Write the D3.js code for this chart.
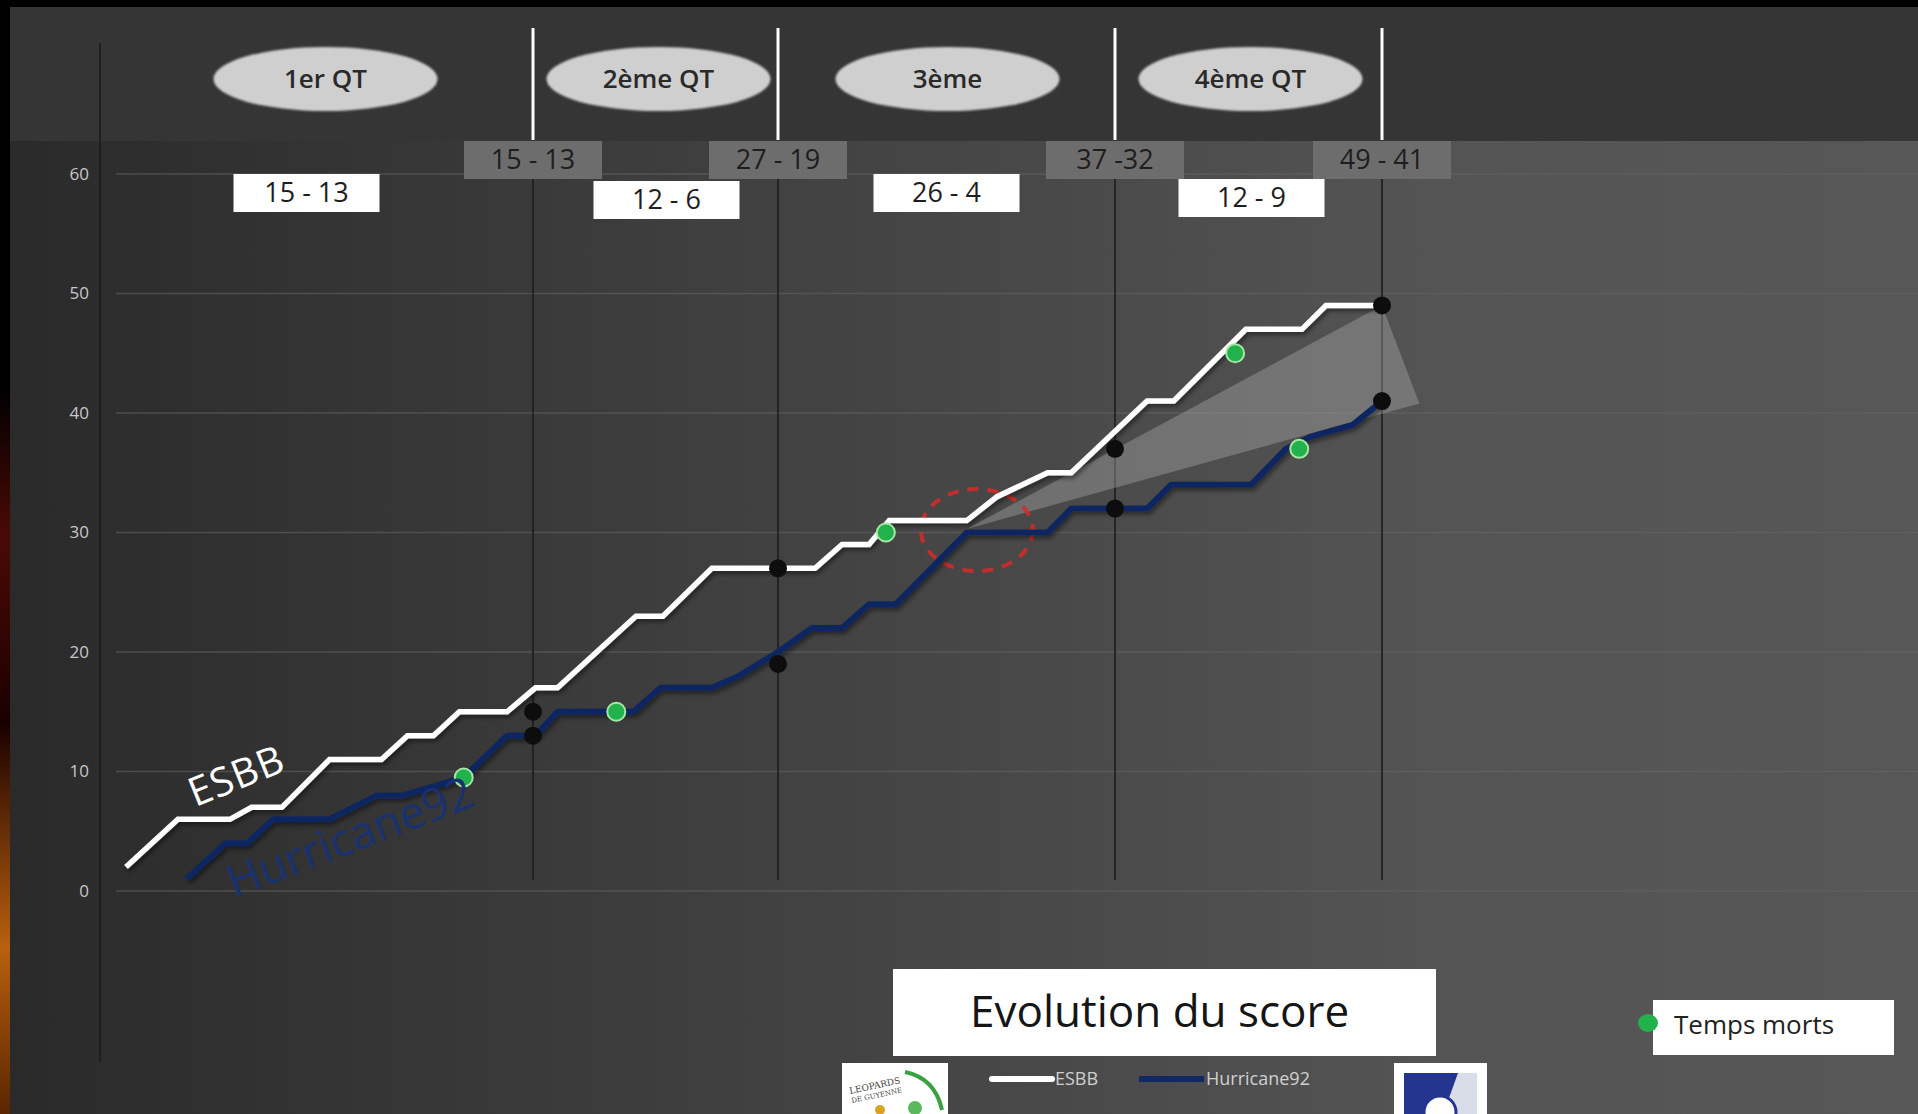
<!DOCTYPE html>
<meta charset="utf-8">
<script src="https://d3js.org/d3.v7.min.js"></script>
<style>
  body { margin: 0; background: #000; }
  svg { display: block; font-family: "Open Sans", sans-serif; }
</style>
<div id="chart"></div>
<script>

// ---- data ----
// game time in minutes, quarters end at 10 / 20 / 30 / 40
var quarterEnds = [0, 10, 20, 30, 40];
var quarterNames = ["1er QT", "2ème QT", "3ème", "4ème QT"];
var quarterScores = ["15 - 13", "12 - 6", "26 - 4", "12 - 9"];
var runningScores = ["15 - 13", "27 - 19", "37 -32", "49 - 41"];

var esbbTime  = [0.6, 1.8, 3.0, 3.5, 4.2, 5.3, 6.5, 7.1, 7.7, 8.3, 9.4, 10.1, 11.0, 14.2, 15.3, 17.3, 21.1, 21.9, 22.7, 23.3, 25.6, 26.5, 28.0, 28.7, 31.2, 32.2, 34.9, 37.0, 37.9, 40];
var esbbScore = [2, 6, 6, 7, 7, 11, 11, 13, 13, 15, 15, 17, 17, 23, 23, 27, 27, 29, 29, 31, 31, 33, 35, 35, 41, 41, 47, 47, 49, 49];

var hurTime  = [2.0, 2.9, 3.4, 4.0, 5.3, 6.4, 7.0, 8.4, 9.4, 10.1, 11.0, 14.1, 15.2, 17.3, 18.4, 20.0, 21.0, 21.9, 22.7, 23.5, 25.6, 28.0, 28.7, 31.2, 32.1, 35.1, 36.4, 37.3, 38.9, 40];
var hurScore = [1, 4, 4, 6, 6, 8, 8, 9.5, 13, 13, 15, 15, 17, 17, 18, 20, 22, 22, 24, 24, 30, 30, 32, 32, 34, 34, 37, 38, 39, 41];

// score at the end of each quarter
var endEsbb = [15, 27, 37, 49];
var endHur  = [13, 19, 32, 41];

// temps morts (time-outs)
var toTime  = [23.2, 34.5, 8.4, 13.4, 36.9];
var toScore = [30, 45, 9.5, 15, 37];

// grey "gap" wedge and red circle (the moment Hurricane92 came back)
var wedgeTime  = [25.6, 40, 41.4];
var wedgeScore = [30.3, 49, 40.8];
var circleTime = 25.9, circleScore = 30.2;

var yTicks = [0, 10, 20, 30, 40, 50, 60];

// ---- svg ----
var W = 1918, H = 1114;
var svg = d3.select("#chart").append("svg").attr("width", W).attr("height", H);

var defs = svg.append("defs");
var bg = defs.append("linearGradient").attr("id", "bg").attr("x1", 0).attr("x2", 1).attr("y1", 0).attr("y2", 0);
bg.append("stop").attr("offset", "0%").attr("stop-color", "#2a2a2a");
bg.append("stop").attr("offset", "40%").attr("stop-color", "#414141");
bg.append("stop").attr("offset", "75%").attr("stop-color", "#545454");
bg.append("stop").attr("offset", "100%").attr("stop-color", "#575757");

var glow = defs.append("linearGradient").attr("id", "glow").attr("x1", 0).attr("x2", 0).attr("y1", 0).attr("y2", 1);
glow.append("stop").attr("offset", "0%").attr("stop-color", "#000");
glow.append("stop").attr("offset", "35%").attr("stop-color", "#000");
glow.append("stop").attr("offset", "48%").attr("stop-color", "#4a0a06");
glow.append("stop").attr("offset", "65%").attr("stop-color", "#1a0000");
glow.append("stop").attr("offset", "85%").attr("stop-color", "#b8600f");
glow.append("stop").attr("offset", "100%").attr("stop-color", "#5a2500");

var shadow = defs.append("filter").attr("id", "shadow").attr("x", "-10%").attr("y", "-10%").attr("width", "120%").attr("height", "130%");
shadow.append("feDropShadow").attr("dx", 2).attr("dy", 3).attr("stdDeviation", 2).attr("flood-color", "#000").attr("flood-opacity", 0.45);

var soft = defs.append("filter").attr("id", "soft");
soft.append("feGaussianBlur").attr("stdDeviation", 1.2);

// background panels
svg.append("rect").attr("x", 0).attr("y", 0).attr("width", 10).attr("height", H).style("fill", "url(#glow)");
svg.append("rect").attr("x", 10).attr("y", 141).attr("width", W - 10).attr("height", H - 141).style("fill", "url(#bg)");
svg.append("rect").attr("x", 10).attr("y", 7).attr("width", W - 10).attr("height", 134).style("fill", "#353535");

// scales
var x = d3.scaleLinear().domain(quarterEnds).range([100, 533, 778, 1115, 1382]);
var y = d3.scaleLinear().domain([0, 60]).range([891, 174]);

// gridlines
svg.selectAll(".grid").data(yTicks).enter().append("line")
    .attr("x1", 116).attr("x2", W)
    .attr("y1", function(d) { return y(d); }).attr("y2", function(d) { return y(d); })
    .attr("stroke", "#666").attr("stroke-width", 1.5).attr("opacity", 0.55);

// y axis
svg.append("line").attr("x1", 100).attr("x2", 100).attr("y1", 43).attr("y2", 1062)
    .attr("stroke", "#1e1e1e").attr("stroke-width", 2);
var yAxis = svg.append("g").attr("transform", "translate(100,0)")
    .call(d3.axisLeft(y).tickValues(yTicks).tickSize(0).tickPadding(11));
yAxis.select(".domain").remove();
yAxis.selectAll("text").style("font-family", "Open Sans").style("font-size", "17px").style("fill", "#c8c8c8");

// quarter separators
var qEnd = quarterEnds.slice(1);
svg.selectAll(".qline").data(qEnd).enter().append("line")
    .attr("x1", function(d) { return x(d); }).attr("x2", function(d) { return x(d); })
    .attr("y1", 179).attr("y2", 880)
    .attr("stroke", "#1c1c1c").attr("stroke-width", 1.6);
svg.selectAll(".qtop").data(qEnd).enter().append("line")
    .attr("x1", function(d) { return x(d); }).attr("x2", function(d) { return x(d); })
    .attr("y1", 28).attr("y2", 140)
    .attr("stroke", "#fff").attr("stroke-width", 3);

// quarter name ellipses
var qMid = quarterNames.map(function(d, i) { return (quarterEnds[i] + quarterEnds[i + 1]) / 2; });
var ellDx = [9, 3, 1, 2];
svg.selectAll(".qell").data(quarterNames).enter().append("ellipse")
    .attr("cx", function(d, i) { return x(qMid[i]) + ellDx[i]; }).attr("cy", 79)
    .attr("rx", 112).attr("ry", 32)
    .style("fill", "#cfcfcf").attr("filter", "url(#soft)");
svg.selectAll(".qname").data(quarterNames).enter().append("text")
    .attr("x", function(d, i) { return x(qMid[i]) + ellDx[i]; }).attr("y", 88)
    .text(function(d) { return d; })
    .style("text-anchor", "middle").style("font-size", "26px").style("font-weight", 600).style("fill", "#2a2a2a");

// running score (grey boxes on the separators)
svg.selectAll(".rbox").data(runningScores).enter().append("rect")
    .attr("x", function(d, i) { return x(qEnd[i]) - 69; }).attr("y", 141)
    .attr("width", 138).attr("height", 38).style("fill", "#6d6d6d");
svg.selectAll(".rtxt").data(runningScores).enter().append("text")
    .attr("x", function(d, i) { return x(qEnd[i]); }).attr("y", 169)
    .text(function(d) { return d; })
    .style("text-anchor", "middle").style("font-size", "27px").style("fill", "#1e1e1e");

// quarter score (white boxes)
var boxDx = [-10, 11, 0, 3];
var boxDy = [0, 7, 0, 5];
svg.selectAll(".qbox").data(quarterScores).enter().append("rect")
    .attr("x", function(d, i) { return x(qMid[i]) + boxDx[i] - 73; }).attr("y", function(d, i) { return 174 + boxDy[i]; })
    .attr("width", 146).attr("height", 38).style("fill", "#fff");
svg.selectAll(".qtxt").data(quarterScores).enter().append("text")
    .attr("x", function(d, i) { return x(qMid[i]) + boxDx[i]; }).attr("y", function(d, i) { return 202 + boxDy[i]; })
    .text(function(d) { return d; })
    .style("text-anchor", "middle").style("font-size", "27px").style("fill", "#1e1e1e");

// grey wedge
svg.append("polygon")
    .attr("points", wedgeTime.map(function(t, i) { return x(t) + "," + y(wedgeScore[i]); }).join(" "))
    .style("fill", "#b0b0b0").style("opacity", 0.38);

// red dashed circle
svg.append("ellipse")
    .attr("cx", x(circleTime)).attr("cy", y(circleScore)).attr("rx", 56).attr("ry", 41)
    .style("fill", "none").attr("stroke", "#d62a2a").attr("stroke-width", 4)
    .attr("stroke-dasharray", "11,9").attr("opacity", 0.85);

// lines
var esbb = esbbTime.map(function(t, i) { return [t, esbbScore[i]]; });
var hur  = hurTime.map(function(t, i) { return [t, hurScore[i]]; });
var line = d3.line().x(function(d) { return x(d[0]); }).y(function(d) { return y(d[1]); });

svg.append("path").datum(hur).attr("d", line)
    .style("fill", "none").attr("stroke", "#112862").attr("stroke-width", 6)
    .attr("stroke-linejoin", "round").attr("filter", "url(#shadow)");
svg.append("path").datum(esbb).attr("d", line)
    .style("fill", "none").attr("stroke", "#fff").attr("stroke-width", 5.5)
    .attr("stroke-linejoin", "miter").attr("filter", "url(#shadow)");

// quarter end markers
var ends = [];
qEnd.forEach(function(t, i) { ends.push([t, endEsbb[i]]); ends.push([t, endHur[i]]); });
svg.selectAll(".end").data(ends).enter().append("circle")
    .attr("cx", function(d) { return x(d[0]); }).attr("cy", function(d) { return y(d[1]); })
    .attr("r", 9).style("fill", "#0d0d0d");

// time-outs
svg.selectAll(".to").data(toTime).enter().append("circle")
    .attr("cx", function(d) { return x(d); }).attr("cy", function(d, i) { return y(toScore[i]); })
    .attr("r", 9).style("fill", "#22b24c").attr("stroke", "#a5e6a5").attr("stroke-width", 2);

// series labels on the lines
svg.append("text").attr("transform", "translate(" + x(2.2) + "," + y(7.0) + ") rotate(-22)")
    .text("ESBB").style("font-size", "40px").style("fill", "#fff").style("letter-spacing", "1px");
svg.append("text").attr("transform", "translate(" + x(3.1) + "," + y(-0.6) + ") rotate(-21)")
    .text("Hurricane92").style("font-size", "45px").style("fill", "#1a3170");

// title box
svg.append("rect").attr("x", 893).attr("y", 969).attr("width", 543).attr("height", 87).style("fill", "#fff");
svg.append("text").attr("x", 970).attr("y", 1027).text("Evolution du score")
    .style("font-size", "44px").style("fill", "#151515");

// legend
svg.append("line").attr("x1", 992).attr("x2", 1052).attr("y1", 1079).attr("y2", 1079)
    .attr("stroke", "#fff").attr("stroke-width", 6).attr("stroke-linecap", "round");
svg.append("text").attr("x", 1055).attr("y", 1085).text("ESBB").style("font-size", "18px").style("fill", "#d0d0d0");
svg.append("line").attr("x1", 1139).attr("x2", 1204).attr("y1", 1079).attr("y2", 1079)
    .attr("stroke", "#112862").attr("stroke-width", 6);
svg.append("text").attr("x", 1206).attr("y", 1085).text("Hurricane92").style("font-size", "18px").style("fill", "#d0d0d0");

// temps morts legend
svg.append("rect").attr("x", 1653).attr("y", 1000).attr("width", 241).attr("height", 55).style("fill", "#fff");
svg.append("ellipse").attr("cx", 1648).attr("cy", 1023).attr("rx", 10).attr("ry", 9).style("fill", "#22b24c");
svg.append("text").attr("x", 1674).attr("y", 1034).text("Temps morts").style("font-size", "26px").style("fill", "#222");

// club logos (rough)
var logoL = svg.append("g");
logoL.append("rect").attr("x", 842).attr("y", 1063).attr("width", 106).attr("height", 60).style("fill", "#fff");
logoL.append("text").attr("x", 850).attr("y", 1094).attr("transform", "rotate(-12,850,1094)")
    .text("LEOPARDS").style("font-size", "9px").style("font-family", "DejaVu Serif").style("fill", "#444");
logoL.append("text").attr("x", 852).attr("y", 1103).attr("transform", "rotate(-12,852,1103)")
    .text("DE GUYENNE").style("font-size", "7px").style("font-family", "DejaVu Serif").style("fill", "#444");
logoL.append("path").attr("d", "M905,1072 Q935,1078 942,1110").style("fill", "none").attr("stroke", "#3aa040").attr("stroke-width", 4);
logoL.append("circle").attr("cx", 915).attr("cy", 1108).attr("r", 7).style("fill", "#5cb85c");
logoL.append("circle").attr("cx", 880).attr("cy", 1110).attr("r", 5).style("fill", "#d9a520");

var logoR = svg.append("g");
logoR.append("rect").attr("x", 1394).attr("y", 1063).attr("width", 93).attr("height", 60).style("fill", "#fff");
logoR.append("rect").attr("x", 1404).attr("y", 1073).attr("width", 73).attr("height", 50).style("fill", "#24358f");
logoR.append("polygon").attr("points", "1458,1073 1477,1073 1477,1123 1440,1123").style("fill", "#d8dde8");
logoR.append("circle").attr("cx", 1440).attr("cy", 1112).attr("r", 16).style("fill", "#fff").attr("stroke", "#24358f").attr("stroke-width", 3);

</script>
